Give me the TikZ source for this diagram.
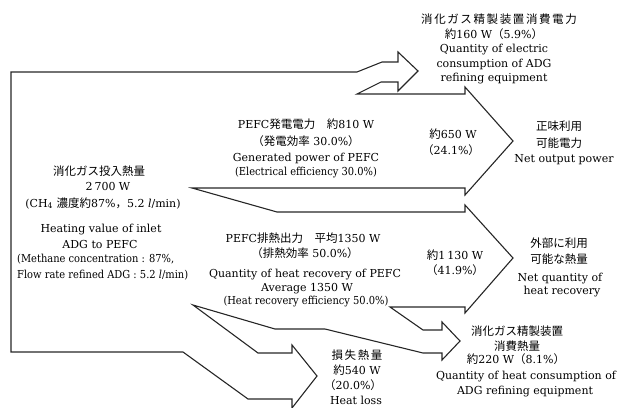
\documentclass[tikz,border=0pt]{standalone}
\usepackage{fontspec}
\setmainfont{DejaVu Serif}
\newfontfamily\jpf{Noto Sans CJK JP}
\newfontfamily\jpw[LetterSpace=14]{Noto Sans CJK JP}
\newcommand\jp{\jpf\fontsize{11.5}{13}\selectfont}
\newcommand\jpsp{\jpw\fontsize{11.5}{13}\selectfont}
\newfontfamily\cnd[FakeStretch=0.9]{DejaVu Serif}
\begin{document}
\begin{tikzpicture}[x=1pt,y=-1pt,
  lbl/.style={anchor=base,inner sep=0pt,font=\fontsize{11}{13}\selectfont},
  small/.style={anchor=base,inner sep=0pt,font=\cnd\fontsize{11}{12}\selectfont},
  flow/.style={line width=1.1pt,draw=black!85,line join=miter}]
\useasboundingbox (0,0) rectangle (617,407);
% outline of the energy flow
\draw[flow] (11,352) -- (11,72) -- (357,72) -- (382,62) -- (398,62) -- (398,52) -- (418,71)
  -- (398,91) -- (398,82) -- (381,82) -- (357,94) -- (465,94) -- (465,87) -- (513,141)
  -- (465,195) -- (465,188) -- (192,188) -- (277,212) -- (465,212) -- (465,205) -- (513,258)
  -- (465,313) -- (465,307) -- (390,307) -- (423,330) -- (442,330) -- (442,322) -- (460,341)
  -- (442,360) -- (442,353) -- (423,353) -- (325,329) -- (275,329) -- (193,305) -- (258,353)
  -- (292,353) -- (292,345) -- (317,376) -- (292,408) -- (292,399) -- (248,399) -- (183,352) -- cycle;
% A
\node[lbl] (a1) at (499,23) {\jpsp 消化ガス精製装置消費電力};
\node[lbl] (a2) at (494,38) {{\jp 約}160 W{\jp （}5.9\%{\jp ）}};
\node[lbl] (a3) at (494,52) {Quantity of electric};
\node[lbl] (a4) at (494,67) {consumption of ADG};
\node[lbl] (a5) at (494,81) {refining equipment};
% B
\node[lbl] (b1) at (306,128) {PEFC{\jp 発電電力　約}810 W};
\node[lbl] (b2) at (306,145) {{\jp （発電効率} 30.0\%{\jp ）}};
\node[lbl] (b3) at (306,161) {Generated power of PEFC};
\node[small] (b4) at (306,175) {(Electrical efficiency 30.0\%)};
% C
\node[lbl] (c1) at (99,175) {\jp 消化ガス投入熱量};
\node[lbl] (c2) at (108,190) {2\,700 W};
\node[lbl] (c3) at (103,207) {(CH\textsubscript{4} {\jp 濃度約}87\%{\jp ，}5.2 \textit{l}/min)};
\node[lbl] (c4) at (101,232) {Heating value of inlet};
\node[lbl] (c5) at (100,248) {ADG to PEFC};
\node[small,anchor=base west] (c6) at (17,262) {(Methane concentration : 87\%,};
\node[small,anchor=base west] (c7) at (17,278) {Flow rate refined ADG : 5.2 \textit{l}/min)};
% D
\node[lbl] (d1) at (453,138) {{\jp 約}650 W};
\node[lbl] (d2) at (451,154) {{\jp （}24.1\%{\jp ）}};
% E
\node[lbl] (e1) at (559,130) {\jp 正味利用};
\node[lbl] (e2) at (559,147) {\jp 可能電力};
\node[lbl] (e3) at (564,162) {Net output power};
% F
\node[lbl] (f1) at (303,242) {PEFC{\jp 排熱出力　平均}1350 W};
\node[lbl] (f2) at (305,257) {{\jp （排熱効率} 50.0\%{\jp ）}};
\node[lbl] (f3) at (305,277) {Quantity of heat recovery of PEFC};
\node[lbl] (f4) at (307,291) {Average 1350 W};
\node[small] (f5) at (306,304) {(Heat recovery efficiency 50.0\%)};
% G
\node[lbl] (g1) at (455,259) {{\jp 約}1\,130 W};
\node[lbl] (g2) at (455,274) {{\jp （}41.9\%{\jp ）}};
% H
\node[lbl] (h1) at (559,247) {\jp 外部に利用};
\node[lbl] (h2) at (559,263) {\jp 可能な熱量};
\node[lbl] (h3) at (560,281) {Net quantity of};
\node[lbl] (h4) at (562,294) {heat recovery};
% I
\node[lbl] (i1) at (517,335) {\jp 消化ガス精製装置};
\node[lbl] (i2) at (517,350) {\jp 消費熱量};
\node[lbl] (i3) at (516,363) {{\jp 約}220 W{\jp （}8.1\%{\jp ）}};
\node[lbl] (i4) at (526,379) {Quantity of heat consumption of};
\node[lbl] (i5) at (525,394) {ADG refining equipment};
% J
\node[lbl] (j1) at (357,359) {\jpsp 損失熱量};
\node[lbl] (j2) at (357,374) {{\jp 約}540 W};
\node[lbl] (j3) at (353,389) {{\jp （}20.0\%{\jp ）}};
\node[lbl] (j4) at (356,404) {Heat loss};
\end{tikzpicture}
\end{document}
